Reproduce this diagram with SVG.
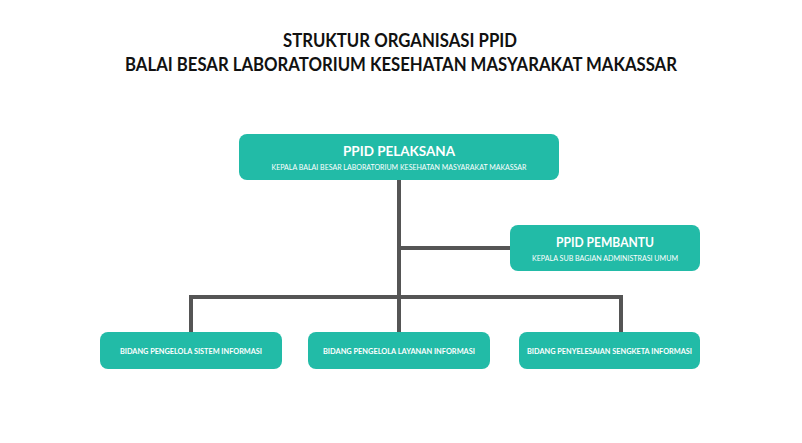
<svg xmlns="http://www.w3.org/2000/svg" width="802" height="443" viewBox="0 0 802 443">
<style>
.bg{fill:#ffffff}
.box{fill:#22bba7}
.t{font-family:Lato,"Noto Sans","Liberation Sans",sans-serif;font-weight:bold;text-anchor:middle}
.title{fill:#111111;font-size:18px}
.h{fill:#ffffff;font-size:13px}
.s{fill:#ffffff;font-size:7.5px;font-weight:normal}
.b{fill:#ffffff;font-size:8px}
.ln{stroke:#555555;stroke-width:4;fill:none}
</style>
<rect class="bg" x="0" y="0" width="802" height="443"/>
<g id="title">
<text class="t title" x="400" y="47" textLength="234" lengthAdjust="spacingAndGlyphs">STRUKTUR ORGANISASI PPID</text>
<text class="t title" x="401" y="71" textLength="552" lengthAdjust="spacingAndGlyphs">BALAI BESAR LABORATORIUM KESEHATAN MASYARAKAT MAKASSAR</text>
</g>
<g id="connectors">
<path class="ln" d="M399 180 V332"/>
<path class="ln" d="M399 248 H511"/>
<path class="ln" d="M191 332 V297 H621 V332"/>
</g>
<g id="ppid-pelaksana">
<rect class="box" x="239" y="134" width="320" height="46" rx="8"/>
<text class="t h" x="399" y="156" textLength="112" lengthAdjust="spacingAndGlyphs">PPID PELAKSANA</text>
<text class="t s" x="399" y="169.5" textLength="255" lengthAdjust="spacingAndGlyphs">KEPALA BALAI BESAR LABORATORIUM KESEHATAN MASYARAKAT MAKASSAR</text>
</g>
<g id="ppid-pembantu">
<rect class="box" x="510" y="225" width="190" height="46" rx="8"/>
<text class="t h" x="605" y="247" textLength="98" lengthAdjust="spacingAndGlyphs">PPID PEMBANTU</text>
<text class="t s" x="605" y="260.5" textLength="146" lengthAdjust="spacingAndGlyphs">KEPALA SUB BAGIAN ADMINISTRASI UMUM</text>
</g>
<g id="bidang-sistem">
<rect class="box" x="100" y="332" width="182" height="37" rx="8"/>
<text class="t b" x="191" y="353.5" textLength="142" lengthAdjust="spacingAndGlyphs">BIDANG PENGELOLA SISTEM INFORMASI</text>
</g>
<g id="bidang-layanan">
<rect class="box" x="308" y="332" width="182" height="37" rx="8"/>
<text class="t b" x="399" y="353.5" textLength="152" lengthAdjust="spacingAndGlyphs">BIDANG PENGELOLA LAYANAN INFORMASI</text>
</g>
<g id="bidang-sengketa">
<rect class="box" x="519" y="332" width="181" height="37" rx="8"/>
<text class="t b" x="609.5" y="353.5" textLength="165" lengthAdjust="spacingAndGlyphs">BIDANG PENYELESAIAN SENGKETA INFORMASI</text>
</g>
</svg>
